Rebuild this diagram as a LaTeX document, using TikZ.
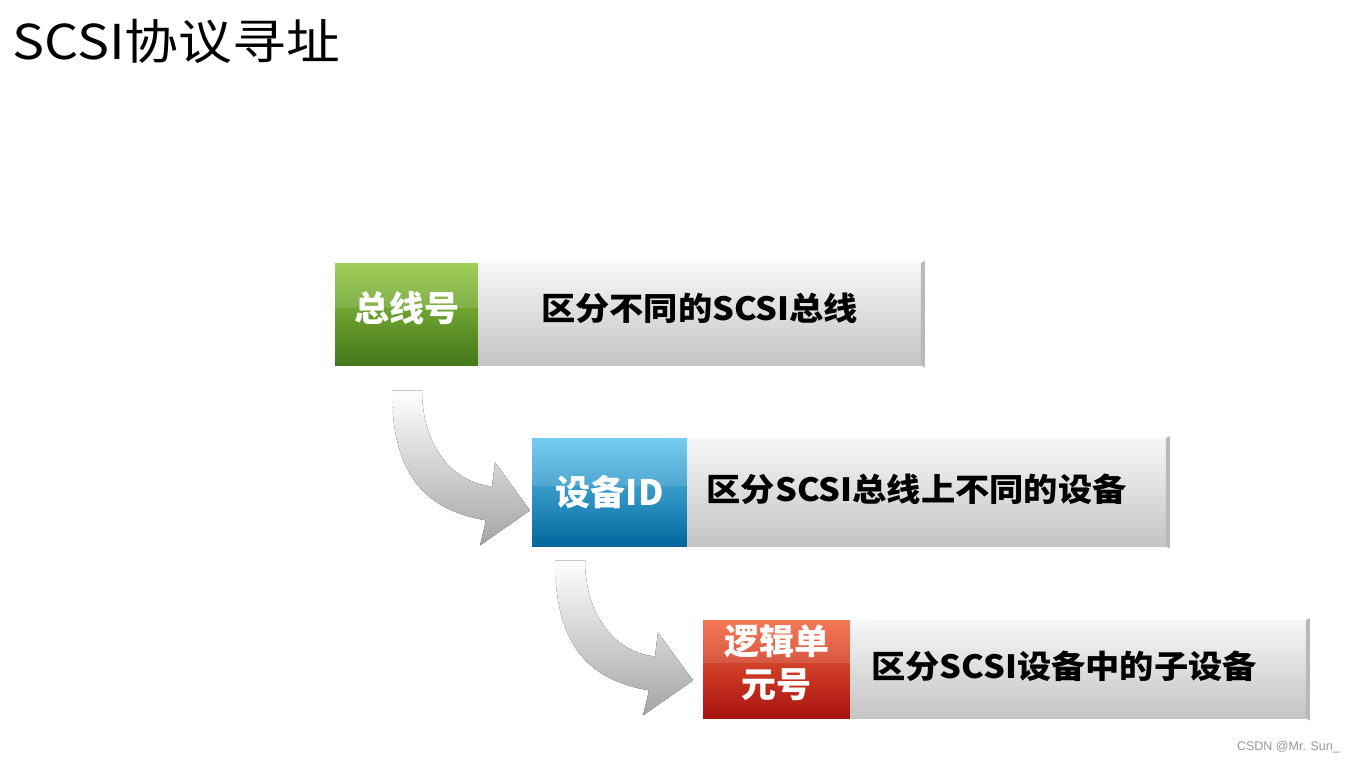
\documentclass[tikz,border=0pt]{standalone}
\usepackage{fontspec}
\setmainfont{Noto Sans CJK SC}
\newfontfamily\titlefont[FakeStretch=1.12]{Noto Sans CJK SC}
\newfontfamily\descfont[FakeStretch=1.07]{Noto Sans CJK SC}
\newfontfamily\markfont{Liberation Sans}
\usetikzlibrary{calc,positioning}

\definecolor{grtop}{HTML}{92C843}
\definecolor{grmid}{HTML}{68A22B}
\definecolor{grbot}{HTML}{44771A}
\definecolor{bltop}{HTML}{62C6EF}
\definecolor{blmid}{HTML}{1C92CD}
\definecolor{blbot}{HTML}{03679D}
\definecolor{rdtop}{HTML}{F3663F}
\definecolor{rdmid}{HTML}{D6301D}
\definecolor{rdbot}{HTML}{A8120E}
\definecolor{dstop}{HTML}{F7F7F7}
\definecolor{dsmid}{HTML}{E6E6E6}
\definecolor{dsbot}{HTML}{C4C4C4}
\definecolor{artop}{HTML}{FFFFFF}
\definecolor{armid}{HTML}{B4B4B4}
\definecolor{arbot}{HTML}{A4A4A4}

\tikzset{
  tagbox/.style={inner sep=0pt, text=white, align=center,
    top color=#1top, middle color=#1mid, bottom color=#1bot,
    font=\bfseries\fontsize{35}{40}\selectfont},
  descbox/.style={inner sep=0pt, right=0pt of #1,
    top color=dstop, middle color=dsmid, bottom color=dsbot,
    font=\descfont\bfseries\fontsize{32}{38}\selectfont},
  lift/.style={text depth=#1},
  bevel/.style={fill=gray!55}
}

% curved grey arrow, drawn from the left corner of its tail
\newcommand{\bendarrow}[1]{%
  \fill[top color=artop, middle color=armid, bottom color=arbot, shift={(#1)}]
    (0,0) .. controls (0,90) and (38,120) .. (94,130) -- (88,155)
    -- (138,120) -- (103,72) -- (100,96)
    .. controls (60,92) and (30,55) .. (30,0) -- cycle;}

\begin{document}
\begin{tikzpicture}[x=1pt,y=-1pt]
  \useasboundingbox[fill=white] (0,0) rectangle (1355,761);

  \node[anchor=base west, inner sep=0pt, font=\titlefont\fontsize{48}{52}\selectfont]
    (title) at (12,59) {SCSI协议寻址};

  % the three levels
  \node[tagbox=gr, lift=15pt, anchor=north west, minimum width=143, minimum height=102]
    (bus) at (335,263) {总线号};
  \node[descbox=bus, lift=15pt, minimum width=442, minimum height=102] (busd) {区分不同的SCSI总线};

  \node[tagbox=bl, anchor=north west, minimum width=155, minimum height=108]
    (dev) at (532,438) {设备ID};
  \node[descbox=dev, lift=8pt, minimum width=478, minimum height=108]
    (devd) {区分SCSI总线上不同的设备\hspace*{20pt}};

  \node[tagbox=rd, lift=16pt, anchor=north west, minimum width=147, minimum height=98]
    (lun) at (703,620) {逻辑单\\[3pt]元号};
  \node[descbox=lun, lift=8pt, minimum width=455, minimum height=98]
    (lund) {区分SCSI设备中的子设备\hspace*{28pt}};

  \foreach \n in {busd,devd,lund} {
    \fill[bevel] (\n.north east) -- ++(4,-2) -- ($(\n.south east)+(4,2)$)
      -- (\n.south east) -- cycle;
  }
  \foreach \n in {bus,dev,lun} {
    \fill[white, opacity=0.12] (\n.north west) rectangle ($(\n.east)+(0,-6)$);
  }

  \coordinate (a1) at ($(bus.south west)+(57,25)$);
  \coordinate (a2) at ($(dev.south west)+(23,14)$);
  \bendarrow{a1}
  \bendarrow{a2}

  \node[anchor=base east, inner sep=0pt, text=gray!80,
    font=\markfont\fontsize{12.5}{14}\selectfont] (mark) at (1340,750) {CSDN @Mr. Sun\_};
\end{tikzpicture}
\end{document}
